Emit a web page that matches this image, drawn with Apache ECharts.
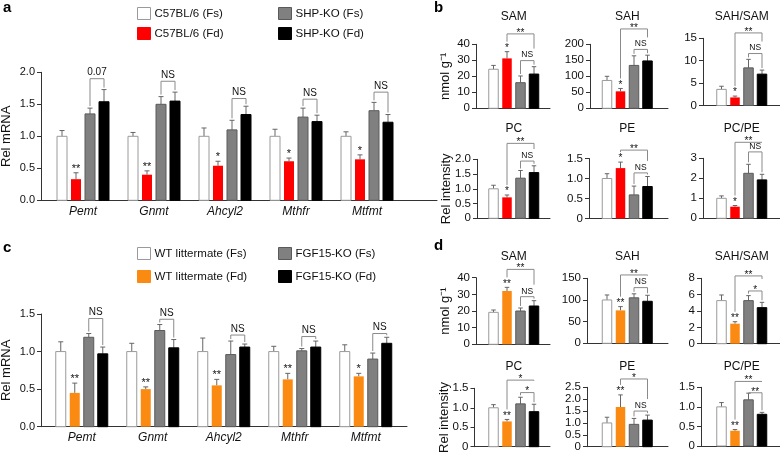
<!DOCTYPE html>
<html>
<head>
<meta charset="utf-8">
<script src="https://cdn.jsdelivr.net/npm/echarts@6/dist/echarts.min.js"></script>
<style>
html, body { margin: 0; background: #fff; }
#chart { width: 780px; height: 452px; }
</style>
</head>
<body>
<div id="chart"></div>
<script>
// ---------- data ----------
const genes = ['Pemt', 'Gnmt', 'Ahcyl2', 'Mthfr', 'Mtfmt'];
const groupsA = ['C57BL/6 (Fs)', 'C57BL/6 (Fd)', 'SHP-KO (Fs)', 'SHP-KO (Fd)'];
const groupsC = ['WT littermate (Fs)', 'WT littermate (Fd)', 'FGF15-KO (Fs)', 'FGF15-KO (Fd)'];

// panel a, Rel mRNA: one row per group, one column per gene
const aMean = [
  [1, 1, 1, 1, 1],
  [0.33, 0.40, 0.54, 0.61, 0.64],
  [1.35, 1.50, 1.10, 1.30, 1.40],
  [1.54, 1.55, 1.34, 1.23, 1.22]
];
const aErr = [
  [0.09, 0.06, 0.13, 0.11, 0.07],
  [0.10, 0.06, 0.07, 0.05, 0.07],
  [0.09, 0.12, 0.15, 0.14, 0.13],
  [0.19, 0.14, 0.13, 0.10, 0.12]
];
const aStar = ['**', '**', '*', '*', '*'];
const aTest = ['0.07', 'NS', 'NS', 'NS', 'NS'];
const aTestAt = [1.90, 1.86, 1.59, 1.58, 1.69];

// panel c
const cMean = [
  [1, 1, 1, 1, 1],
  [0.45, 0.50, 0.55, 0.63, 0.67],
  [1.19, 1.28, 0.96, 1.01, 0.90],
  [0.97, 1.05, 1.06, 1.06, 1.11]
];
const cErr = [
  [0.13, 0.11, 0.18, 0.07, 0.09],
  [0.13, 0.03, 0.08, 0.08, 0.04],
  [0.05, 0.08, 0.18, 0.03, 0.08],
  [0.09, 0.11, 0.04, 0.08, 0.08]
];
const cStar = ['**', '**', '**', '**', '*'];
const cTest = ['NS', 'NS', 'NS', 'NS', 'NS'];
const cTestAt = [1.44, 1.43, 1.22, 1.20, 1.24];

// panels b and d: one entry per metabolite, 4 groups each
const metab = ['SAM', 'SAH', 'SAH/SAM', 'PC', 'PE', 'PC/PE'];
const bMean = [[24.4, 31.2, 16.0, 21.4], [87, 53, 134, 148], [3.6, 1.8, 8.4, 7.0],
               [1.0, 0.71, 1.36, 1.55], [1.0, 1.26, 0.59, 0.80], [1.0, 0.58, 2.25, 1.92]];
const bErr = [[2.4, 4.2, 4.2, 4.6], [13, 9, 30, 18], [0.7, 0.3, 1.9, 0.9],
              [0.12, 0.08, 0.26, 0.23], [0.12, 0.15, 0.22, 0.25], [0.12, 0.06, 0.45, 0.28]];
const bStar = ['*', '*', '*', '*', '*', '*'];
const bTests = [
  [[1, 3, '**', 46.5], [2, 3, 'NS', 29.8]],
  [[1, 3, '**', 248], [2, 3, 'NS', 184]],
  [[1, 3, '**', 16.2], [2, 3, 'NS', 11.6]],
  [[1, 3, '**', 2.54], [2, 3, 'NS', 1.94]],
  [[1, 3, '**', 1.71], [2, 3, 'NS', 1.14]],
  [[1, 3, '**', 3.8], [2, 3, 'NS', 3.32]]
];
const bMax = [40, 200, 15, 2, 1.5, 3];
const bStep = [10, 50, 5, 0.5, 0.5, 1];
const bDec = [0, 0, 0, 1, 1, 0];

const dMean = [[19.2, 32.0, 20.0, 23.0], [100, 76, 105, 97], [5.27, 2.45, 5.27, 4.41],
               [1.0, 0.65, 1.10, 0.90], [1.0, 1.67, 0.94, 1.12], [1.0, 0.39, 1.18, 0.81]];
const dErr = [[1.4, 2.2, 1.8, 3.2], [11.5, 8.6, 9.2, 13.8], [0.69, 0.24, 0.61, 0.65],
              [0.08, 0.05, 0.17, 0.19], [0.24, 0.51, 0.25, 0.21], [0.11, 0.03, 0.17, 0.05]];
const dStar = ['**', '**', '**', '**', '**', '**'];
const dTests = [
  [[1, 3, '**', 45], [2, 3, 'NS', 28.6]],
  [[1, 3, '**', 157.7], [2, 3, 'NS', 128.5]],
  [[1, 3, '**', 8.29], [2, 3, '*', 6.45]],
  [[1, 3, '*', 1.71], [2, 3, '*', 1.39]],
  [[1, 3, '*', 2.85], [2, 3, 'NS', 1.50]],
  [[1, 3, '**', 1.65], [2, 3, '**', 1.36]]
];
const dMax = [40, 150, 8, 1.5, 2.5, 1.5];
const dStep = [10, 50, 2, 0.5, 0.5, 0.5];
const dDec = [0, 0, 0, 1, 1, 1];

// ---------- styles ----------
const FONT = '"Liberation Sans", Arial, Helvetica, sans-serif';
const fillsA = ['#ffffff', '#ff0000', '#808080', '#000000'];
const fillsC = ['#ffffff', '#fb8a12', '#808080', '#000000'];
const strokes = ['#9a9a9a', null, '#5a5a5a', '#000000'];

const grids = [], xAxes = [], yAxes = [], series = [];

function addPanel(p) {
  const gi = grids.length;
  grids.push({ left: p.left, top: p.top, width: p.right - p.left, height: p.bottom - p.top,
    containLabel: false, outerBoundsMode: 'none' });
  xAxes.push({
    gridIndex: gi, type: 'value', min: p.xMin, max: p.xMax,
    axisLine: { lineStyle: { color: '#333', width: 1 } },
    axisTick: { show: false }, splitLine: { show: false },
    axisLabel: p.labels ? {
      customValues: p.labels.map((_, i) => i + 1),
      formatter: v => p.labels[Math.round(v) - 1],
      fontStyle: 'italic', fontSize: 12, color: '#111', margin: 5, fontFamily: FONT
    } : { show: false }
  });
  yAxes.push({
    gridIndex: gi, type: 'value', min: 0, max: p.yMax, interval: p.yStep,
    name: p.yName || '', nameLocation: 'middle', nameGap: p.nameGap || 25, nameRotate: 90,
    nameMoveOverlap: false,
    nameTextStyle: { fontSize: 13, color: '#111', fontFamily: FONT },
    axisLine: { show: true, lineStyle: { color: '#333', width: 1 } },
    axisTick: { show: true, length: 4, lineStyle: { color: '#333' } },
    splitLine: { show: false },
    axisLabel: {
      fontSize: p.tickFont, color: '#111', margin: 6, fontFamily: FONT,
      formatter: v => (v === 0 && p.plainZero) ? '0' : v.toFixed(p.dec)
    }
  });

  const nBars = 4;
  for (let k = 0; k < nBars; k++) {
    series.push({
      type: 'custom', name: p.names[k], xAxisIndex: gi, yAxisIndex: gi, clip: false,
      itemStyle: { color: p.fills[k], borderColor: strokes[k] || p.fills[k], borderWidth: 1 },
      data: p.clusters.map((xc, c) => [xc, p.means[k][c], p.errs[k][c]]),
      renderItem: (params, api) => {
        const c = params.dataIndex;
        const xc = api.value(0), v = api.value(1), e = api.value(2);
        const base = api.coord([xc, 0]);
        const top = api.coord([xc, v])[1];
        const et = api.coord([xc, v + e])[1];
        const cx = base[0] + (k - 1.5) * p.spacing;
        const w = p.barW;
        const kids = [
          { type: 'line', shape: { x1: cx, y1: top, x2: cx, y2: et }, style: { stroke: '#666', lineWidth: 1 } },
          { type: 'line', shape: { x1: cx - p.cap / 2, y1: et, x2: cx + p.cap / 2, y2: et }, style: { stroke: '#666', lineWidth: 1 } },
          { type: 'rect', shape: { x: cx - w / 2, y: top, width: w, height: base[1] - top },
            style: { fill: p.fills[k], stroke: strokes[k], lineWidth: strokes[k] ? 1 : 0 } }
        ];
        if (k === 1 && p.stars[c]) {
          kids.push({ type: 'text', x: cx, y: et - p.starGap,
            style: { text: p.stars[c], align: 'center', verticalAlign: 'middle',
              font: p.starFont + 'px ' + FONT, fill: '#111' } });
        }
        return { type: 'group', children: kids };
      }
    });
  }

  // significance brackets
  const bData = [];
  p.clusters.forEach((xc, c) => p.tests[c].forEach((t, ti) => bData.push([xc, t[3], c, ti])));
  series.push({
    type: 'custom', name: 'sig' + gi, xAxisIndex: gi, yAxisIndex: gi, clip: false, silent: true,
    data: bData,
    renderItem: (params, api) => {
      const xc = api.value(0), c = api.value(2), ti = api.value(3);
      const list = p.tests[c];
      const t = list[ti];
      const py = val => api.coord([xc, val])[1];
      const x0 = api.coord([xc, 0])[0];
      const bx = k => x0 + (k - 1.5) * p.spacing;
      const L = py(t[3]);
      const legEnd = k => {
        let top = py(p.means[k][c] + p.errs[k][c]);
        if (k === 1 && p.stars[c]) top -= p.starH;
        list.forEach(o => {
          if (o !== t && k >= o[0] && k <= o[1]) {
            const ol = py(o[3]);
            if (ol > L) top = Math.min(top, ol - p.labelH);
          }
        });
        return Math.max(L, top - 2);
      };
      const xi = bx(t[0]), xj = bx(t[1]);
      const isStar = t[2].indexOf('*') >= 0;
      return {
        type: 'group', children: [
          { type: 'polyline', shape: { points: [[xi, legEnd(t[0])], [xi, L], [xj, L], [xj, legEnd(t[1])]] },
            style: { stroke: '#8a8a8a', lineWidth: 1, fill: null } },
          { type: 'text', x: (xi + xj) / 2, y: L - 1,
            style: { text: t[2], align: 'center', verticalAlign: isStar ? 'middle' : 'bottom',
              font: (isStar ? p.starFont : p.testFont) + 'px ' + FONT, fill: '#111' } }
        ]
      };
    }
  });
}

// ---------- panels a and c ----------
const unitAC = 71;
addPanel({
  left: 41, right: 437, top: 72.3, bottom: 200.3,
  xMin: 1 - 42 / unitAC, xMax: 1 - 42 / unitAC + 396 / unitAC,
  yMax: 2, yStep: 0.5, dec: 1, plainZero: false, tickFont: 11,
  yName: 'Rel mRNA', nameGap: 28, labels: genes,
  clusters: genes.map((_, i) => i + 1),
  means: aMean, errs: aErr, stars: aStar,
  tests: aTest.map((s, i) => [[2, 3, s, aTestAt[i]]]),
  names: groupsA, fills: fillsA,
  spacing: 14, barW: 10, cap: 5, starFont: 11, starGap: 4, starH: 9, testFont: 10, labelH: 11
});
addPanel({
  left: 41, right: 407, top: 314, bottom: 426.7,
  xMin: 1 - 40.75 / unitAC, xMax: 1 - 40.75 / unitAC + 366 / unitAC,
  yMax: 1.5, yStep: 0.5, dec: 1, plainZero: false, tickFont: 11,
  yName: 'Rel mRNA', nameGap: 28, labels: genes,
  clusters: genes.map((_, i) => i + 1),
  means: cMean, errs: cErr, stars: cStar,
  tests: cTest.map((s, i) => [[2, 3, s, cTestAt[i]]]),
  names: groupsC, fills: fillsC,
  spacing: 14, barW: 10, cap: 5, starFont: 11, starGap: 4, starH: 9, testFont: 10, labelH: 11
});

// ---------- small panels b and d ----------
const rowTop = [[44.3, 44.3, 38.3], [159.3, 158.5, 158.3], [277.7, 278.3, 278.3], [388.3, 387.3, 387.3]];
const rowBottom = [[108.3, 108.3, 105.5], [218.3, 218.5, 218.3], [344.3, 343.3, 343.7], [446.7, 446.7, 446]];
const colLeft = [[476, 590, 703], [477, 589, 703], [476, 587, 701], [474.5, 587, 701]];
const colRight = [550, 668, 780];
const firstBar = [493.5, 607, 721.5];
const smallSpacing = 13.5;
const rowTitleY = [16.7, 128.3, 256.7, 366.7];
const graphics = [];

function addSmall(row, col, m, set) {
  const left = colLeft[row][col];
  const clusterPx = firstBar[col] + 1.5 * smallSpacing;
  const yName = col === 0 ? (m < 3 ? 'nmol g\u207B\u00B9' : 'Rel intensity') : '';
  addPanel({
    left: left, right: colRight[col], top: rowTop[row][col], bottom: rowBottom[row][col],
    xMin: 0, xMax: (colRight[col] - left) / (clusterPx - left),
    yMax: set.max[m], yStep: set.step[m], dec: set.dec[m], plainZero: true, tickFont: 11.5,
    yName: yName, nameGap: 24, labels: null,
    clusters: [1],
    means: set.mean[m].map(v => [v]), errs: set.err[m].map(v => [v]),
    stars: [set.star[m]], tests: [set.tests[m]],
    names: set.names, fills: set.fills,
    spacing: smallSpacing, barW: 9.5, cap: 4.5, starFont: 10, starGap: 3.5, starH: 8, testFont: 8.5, labelH: 10
  });
  graphics.push({ type: 'text', x: firstBar[col] + 1.5 * smallSpacing, y: rowTitleY[row],
    style: { text: metab[m], align: 'center', verticalAlign: 'middle', font: '12px ' + FONT, fill: '#111' } });
}

const setB = { mean: bMean, err: bErr, star: bStar, tests: bTests, max: bMax, step: bStep, dec: bDec, names: groupsA, fills: fillsA };
const setD = { mean: dMean, err: dErr, star: dStar, tests: dTests, max: dMax, step: dStep, dec: dDec, names: groupsC, fills: fillsC };
for (let m = 0; m < 6; m++) {
  addSmall(m < 3 ? 0 : 1, m % 3, m, setB);
  addSmall(m < 3 ? 2 : 3, m % 3, m, setD);
}

// panel letters
[['a', 3, 8], ['b', 434, 8], ['c', 3, 248], ['d', 434, 246]].forEach(l => {
  graphics.push({ type: 'text', x: l[1], y: l[2],
    style: { text: l[0], verticalAlign: 'middle', font: 'bold 15px ' + FONT, fill: '#000' } });
});

function legendOf(names, fills, idx, left, top, gap) {
  return {
    left: left, top: top, orient: 'vertical', padding: 0, itemGap: gap,
    icon: 'rect', itemWidth: 13, itemHeight: 12, selectedMode: false,
    textStyle: { fontSize: 11.5, color: '#111', fontFamily: FONT, padding: [0, 0, 0, -1] },
    data: idx.map(k => ({ name: names[k],
      itemStyle: { color: fills[k], borderColor: strokes[k] || fills[k], borderWidth: 1 } }))
  };
}

const option = {
  animation: false,
  backgroundColor: '#ffffff',
  textStyle: { fontFamily: FONT },
  legend: [
    legendOf(groupsA, fillsA, [0, 1], 137, 7, 7),
    legendOf(groupsA, fillsA, [2, 3], 278, 7, 7),
    legendOf(groupsC, fillsC, [0, 1], 137, 247, 10),
    legendOf(groupsC, fillsC, [2, 3], 278, 247, 10)
  ],
  grid: grids,
  xAxis: xAxes,
  yAxis: yAxes,
  series: series,
  graphic: graphics
};

const chart = echarts.init(document.getElementById('chart'));
chart.setOption(option);
</script>
</body>
</html>
